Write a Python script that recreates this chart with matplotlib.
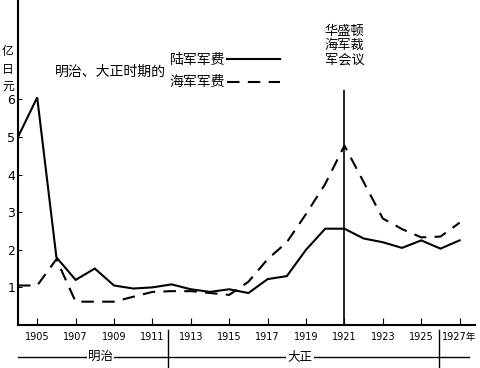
import matplotlib
matplotlib.use("Agg")
from matplotlib import pyplot as plt
from matplotlib.lines import Line2D
import matplotlib.transforms as mtransforms

plt.rcParams['font.family'] = ['Noto Sans CJK SC', 'DejaVu Sans']

years = list(range(1904, 1928))
army = [5.0, 6.05, 1.8, 1.2, 1.5, 1.05, 0.97, 1.0, 1.08, 0.95, 0.88, 0.95, 0.85,
        1.22, 1.3, 2.0, 2.56, 2.56, 2.3, 2.2, 2.05, 2.25, 2.03, 2.25]
navy = [1.05, 1.05, 1.75, 0.62, 0.62, 0.62, 0.75, 0.88, 0.9, 0.9, 0.85, 0.8, 1.15,
        1.75, 2.2, 2.95, 3.75, 4.77, 3.8, 2.83, 2.55, 2.33, 2.35, 2.72]
xticks = [1905, 1907, 1909, 1911, 1913, 1915, 1917, 1919, 1921, 1923, 1925, 1927]
xlabels = ['1905', '1907', '1909', '1911', '1913', '1915', '1917', '1919',
           '1921', '1923', '1925', '1927年']
yticks = [1, 2, 3, 4, 5, 6]
conference_year = 1921
era_bounds = [1911.8, 1925.9]

fig = plt.figure(figsize=(4.81, 3.68), dpi=100)
ax = fig.add_axes([18 / 481, 43 / 368, 457 / 481, 325 / 368])

ax.plot(years, army, color='black', lw=1.5, solid_joinstyle='miter')
ax.plot(years, navy, color='black', lw=1.5, ls=(0, (6, 4)))
ax.vlines(conference_year, 0, 6.25, color='black', lw=1.2)

ax.set_xlim(1904, 1927.8)
ax.set_ylim(0, 8.64)
ax.spines['top'].set_visible(False)
ax.spines['right'].set_visible(False)
ax.spines['left'].set_linewidth(1.5)
ax.spines['bottom'].set_linewidth(1.5)
ax.set_xticks(xticks)
ax.set_xticklabels(xlabels, fontsize=7, family=['DejaVu Sans', 'Noto Sans CJK SC'])
ax.set_yticks(yticks)
ax.set_yticklabels([str(v) for v in yticks], fontsize=9, family='DejaVu Sans')
ax.tick_params(axis='x', direction='in', length=5, pad=5)
ax.tick_params(axis='y', direction='in', length=3, pad=2)

ax.text(-0.022, 0.86, '亿\n日\n元', transform=ax.transAxes, fontsize=8.5,
        ha='center', va='top', linespacing=1.4)

handles = [Line2D([], [], color='black', lw=1.5),
           Line2D([], [], color='black', lw=1.5, ls=(0, (6, 4)))]
ax.legend(handles, ['陆军军费', '海军军费'], loc='upper left',
          bbox_to_anchor=(0.305, 0.875), markerfirst=False, frameon=False,
          fontsize=10, handlelength=3.8, handletextpad=0.1, labelspacing=0.6)
ax.text(0.08, 0.778, '明治、大正时期的', transform=ax.transAxes, fontsize=10,
        ha='left', va='center')

trans = mtransforms.blended_transform_factory(ax.transData, ax.transAxes)
ax.text(conference_year, 0.925, '华盛顿\n海军裁\n军会议', transform=trans,
        fontsize=9.5, ha='center', va='top', linespacing=1.15)

# era bar under the axis
y_era = -0.098
ax.plot([1904, 1927.5], [y_era, y_era], color='black', lw=1.0,
        transform=trans, clip_on=False)
for b in era_bounds:
    ax.plot([b, b], [-0.015, -0.135], color='black', lw=1.0,
            transform=trans, clip_on=False)
ax.text(1908.3, y_era, '明治', transform=trans, fontsize=9, ha='center',
        va='center', bbox=dict(facecolor='white', edgecolor='none', pad=1))
ax.text(1918.7, y_era, '大正', transform=trans, fontsize=9, ha='center',
        va='center', bbox=dict(facecolor='white', edgecolor='none', pad=1))

fig.savefig('out.png', dpi=100)
